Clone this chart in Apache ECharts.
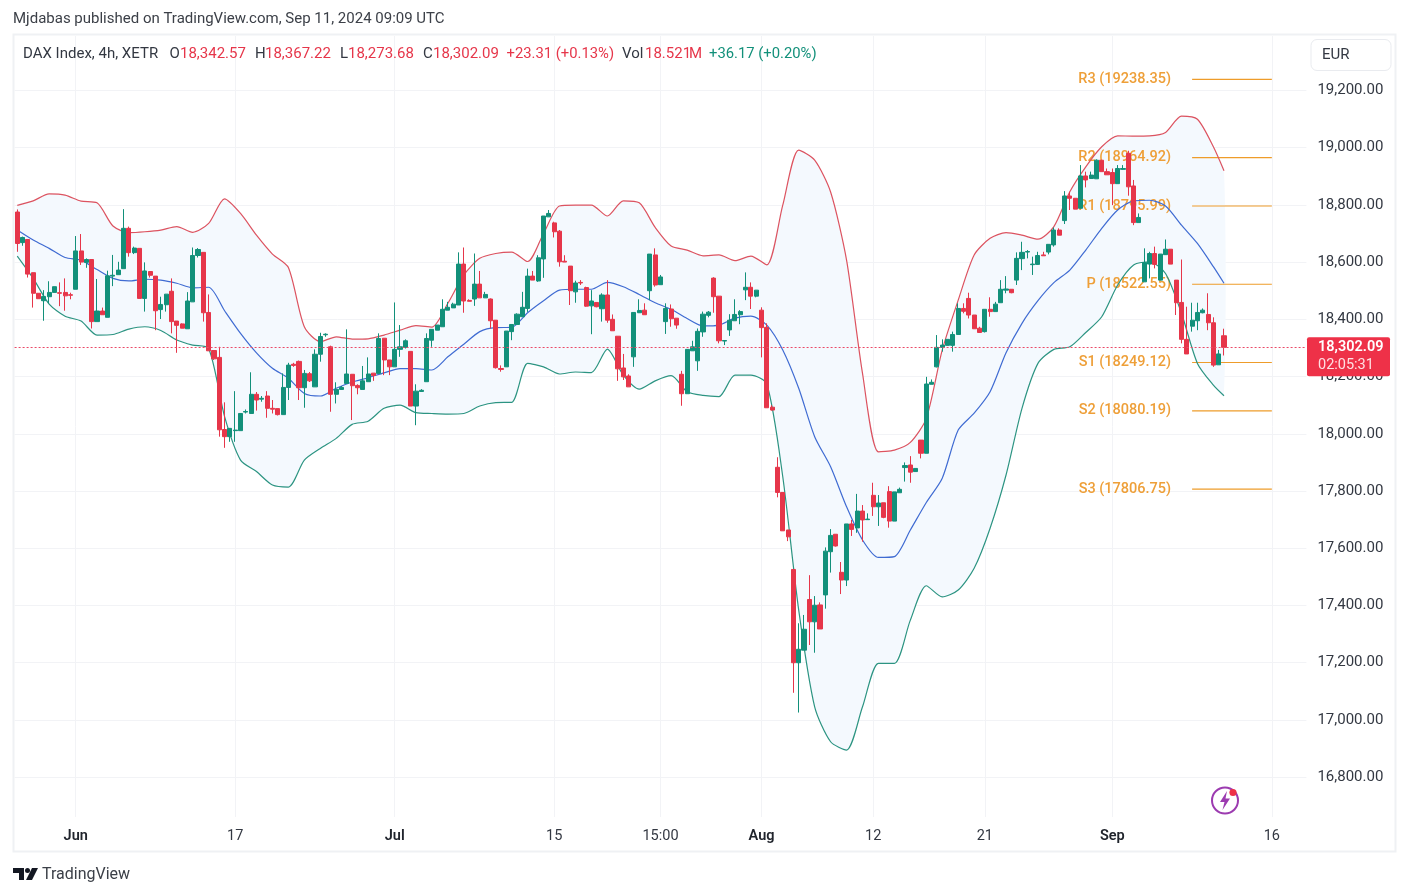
<!DOCTYPE html>
<html>
<head>
<meta charset="utf-8">
<title>DAX Index 4h</title>
<style>
html, body { margin: 0; padding: 0; background: #fff; }
#chart { width: 1409px; height: 896px; }
</style>
<script src="https://cdn.jsdelivr.net/npm/echarts@6/dist/echarts.min.js"></script>
</head>
<body>
<div id="chart"></div>
<script>
// open, close, low, high of every 4h bar
var candles = [
[18775,18665,18636,18784],[18668,18686,18657,18689],[18679,18558,18546,18679],[18563,18491,18441,18563],
[18491,18472,18472,18491],[18465,18480,18395,18502],[18479,18494,18456,18533],[18494,18514,18494,18514],
[18493,18491,18446,18529],[18494,18482,18430,18543],[18486,18484,18470,18493],[18505,18639,18505,18691],
[18639,18600,18590,18698],[18599,18609,18580,18613],[18609,18392,18368,18609],[18392,18429,18392,18541],
[18429,18416,18416,18441],[18407,18552,18407,18570],[18551,18554,18516,18625],[18556,18572,18556,18601],
[18577,18718,18577,18785],[18718,18633,18619,18724],[18633,18649,18628,18654],[18648,18473,18473,18648],
[18473,18569,18427,18599],[18567,18554,18546,18567],[18551,18430,18362,18551],[18434,18452,18401,18479],
[18451,18488,18427,18488],[18498,18392,18351,18543],[18394,18379,18283,18394],[18384,18369,18369,18386],
[18367,18464,18367,18495],[18461,18623,18461,18651],[18623,18644,18616,18649],[18634,18423,18392,18634],
[18424,18290,18290,18487],[18291,18262,18258,18291],[18267,18014,17990,18304],[18015,17990,17951,18110],
[17990,18019,17972,18019],[18011,18013,17972,18149],[18011,18071,18011,18071],[18076,18078,18071,18085],
[18071,18138,18071,18215],[18138,18118,18081,18146],[18121,18124,18112,18132],[18132,18089,18056,18149],
[18089,18086,18071,18118],[18088,18067,18064,18088],[18067,18162,18067,18211],[18162,18240,18118,18248],
[18243,18239,18234,18248],[18253,18161,18118,18256],[18161,18211,18091,18223],[18210,18185,18181,18216],
[18164,18278,18164,18295],[18278,18340,18252,18353],[18346,18348,18339,18351],[18304,18138,18077,18308],
[18138,18155,18106,18180],[18155,18162,18153,18167],[18176,18209,18176,18365],[18208,18168,18048,18208],
[18169,18161,18138,18173],[18155,18185,18155,18237],[18182,18209,18182,18267],[18212,18204,18185,18212],
[18211,18333,18211,18351],[18334,18258,18205,18334],[18258,18234,18205,18258],[18234,18295,18234,18459],
[18295,18304,18269,18380],[18302,18325,18298,18330],[18288,18097,18097,18288],[18097,18149,18030,18173],
[18148,18152,18147,18156],[18182,18333,18182,18351],[18327,18365,18304,18365],[18362,18380,18362,18380],
[18374,18435,18374,18470],[18432,18442,18432,18461],[18440,18453,18440,18458],[18450,18593,18450,18634],
[18593,18464,18423,18651],[18466,18463,18463,18470],[18471,18523,18447,18630],[18523,18475,18475,18569],
[18475,18487,18475,18496],[18471,18395,18368,18473],[18397,18231,18228,18397],[18228,18225,18217,18239],
[18234,18359,18234,18359],[18357,18382,18327,18382],[18382,18418,18382,18421],[18409,18442,18409,18496],
[18438,18551,18426,18577],[18551,18537,18537,18569],[18534,18615,18531,18624],[18611,18761,18545,18761],
[18758,18770,18758,18782],[18737,18706,18686,18741],[18708,18601,18584,18712],[18603,18600,18600,18624],
[18586,18500,18450,18586],[18496,18527,18458,18535],[18529,18527,18520,18537],[18511,18446,18444,18514],
[18447,18464,18348,18502],[18459,18444,18442,18459],[18437,18485,18392,18491],[18485,18397,18388,18537],
[18400,18360,18360,18417],[18341,18227,18185,18341],[18230,18199,18188,18279],[18202,18164,18164,18208],
[18269,18424,18234,18424],[18423,18431,18423,18470],[18432,18416,18416,18456],[18500,18628,18467,18628],
[18625,18520,18514,18648],[18521,18548,18521,18555],[18392,18438,18349,18456],[18436,18402,18374,18452],
[18404,18380,18367,18404],[18208,18140,18098,18220],[18140,18295,18140,18295],[18290,18304,18290,18325],
[18255,18358,18220,18368],[18356,18418,18339,18427],[18414,18425,18407,18429],[18544,18479,18423,18547],
[18481,18325,18316,18481],[18324,18326,18310,18326],[18363,18397,18342,18418],[18395,18417,18395,18470],
[18416,18427,18383,18432],[18503,18512,18467,18564],[18512,18481,18436,18529],[18481,18502,18477,18502],
[18432,18371,18267,18442],[18372,18091,18091,18386],[18093,18083,18081,18100],[17883,17795,17778,17918],
[17795,17661,17661,17795],[17664,17640,17625,17664],[17526,17200,17095,17526],[17200,17247,17026,17338],
[17244,17317,17244,17367],[17421,17343,17262,17506],[17343,17401,17235,17433],[17402,17318,17318,17411],
[17437,17590,17389,17603],[17588,17645,17515,17667],[17649,17608,17606,17649],[17516,17489,17440,17552],
[17489,17685,17468,17685],[17685,17666,17643,17699],[17671,17730,17654,17790],[17730,17699,17623,17751],
[17700,17702,17700,17722],[17785,17745,17713,17829],[17745,17758,17678,17786],[17759,17708,17705,17759],
[17798,17695,17672,17817],[17695,17797,17695,17797],[17794,17806,17794,17812],[17882,17889,17833,17900],
[17891,17866,17829,17922],[17868,17879,17868,17879],[17978,17932,17914,17978],[17932,18174,17932,18199],
[18173,18180,18173,18190],[18234,18302,18232,18345],[18302,18310,18287,18330],[18309,18330,18309,18330],
[18309,18347,18287,18357],[18347,18438,18347,18456],[18438,18428,18421,18456],[18473,18415,18403,18493],
[18415,18367,18367,18415],[18369,18354,18354,18374],[18357,18435,18354,18435],[18435,18427,18409,18477],
[18427,18453,18427,18461],[18458,18505,18458,18537],[18502,18506,18491,18551],[18505,18493,18491,18505],
[18537,18613,18520,18634],[18612,18634,18572,18671],[18635,18637,18613,18642],[18591,18593,18555,18619],
[18592,18623,18590,18636],[18625,18622,18622,18636],[18635,18662,18627,18662],[18660,18712,18654,18721],
[18712,18694,18694,18718],[18745,18831,18733,18848],[18831,18823,18782,18846],[18823,18785,18785,18823],
[18788,18901,18788,18939],[18901,18887,18861,18916],[18892,18904,18892,18916],[18891,18956,18891,18959],
[18956,18916,18916,18956],[18916,18905,18905,18927],[18913,18874,18799,18927],[18874,18927,18874,18939],
[18924,18927,18922,18939],[18980,18863,18832,18989],[18866,18738,18729,18887],[18738,18756,18738,18770],
[18531,18598,18531,18648],[18593,18630,18543,18636],[18630,18592,18578,18654],[18537,18628,18537,18628],
[18626,18645,18625,18679],[18645,18593,18593,18645],[18537,18458,18415,18537],[18459,18330,18316,18609],
[18330,18279,18279,18444],[18376,18397,18357,18458],[18395,18424,18362,18458],[18423,18432,18421,18438],
[18417,18388,18362,18491],[18388,18240,18234,18407],[18241,18279,18241,18293],[18342.57,18302.09,18273.68,18367.22]
];

// Bollinger bands, read every third bar (plus the last one)
var bandUpper = [18798,18814,18838,18834,18813,18807,18726,18703,18706,18712,18724,18704,18735,18821,18770,18694,18628,18581,18374,18322,18339,
	18331,18332,18345,18362,18378,18373,18456,18555,18613,18630,18635,18602,18700,18796,18799,18799,18761,18814,18807,18721,
	18656,18642,18622,18625,18605,18621,18590,18799,18991,18956,18845,18607,18211,17937,17943,17970,18054,
	18293,18467,18625,18683,18703,18694,18680,18724,18846,18933,19003,19041,19040,19041,19053,19110,19099,19003,18919];
var bandMiddle = [18712,18677,18648,18616,18607,18574,18543,18534,18540,18537,18526,18510,18512,18430,18351,18283,18229,18194,18141,18132,18159,
	18181,18196,18213,18228,18228,18223,18269,18313,18357,18371,18372,18423,18465,18502,18505,18505,18529,18514,18487,18458,
	18435,18403,18377,18380,18404,18411,18380,18293,18159,17990,17885,17745,17629,17568,17571,17664,17760,
	17845,18013,18072,18147,18283,18386,18465,18528,18572,18642,18718,18782,18814,18816,18796,18729,18665,18584,18526];
var bandLower = [18621,18543,18453,18411,18394,18345,18347,18366,18374,18361,18328,18310,18298,18060,17908,17868,17821,17814,17908,17949,17984,
	18033,18044,18089,18100,18074,18071,18069,18071,18097,18109,18110,18246,18234,18209,18216,18214,18296,18205,18156,18185,
	18203,18147,18134,18130,18205,18205,18174,17850,17384,17046,16924,16895,17046,17198,17198,17349,17469,
	17430,17454,17530,17670,17856,18089,18246,18295,18304,18354,18409,18520,18590,18601,18560,18421,18246,18170,18133];

var pivotNames = ['R3', 'R2', 'R1', 'P', 'S1', 'S2', 'S3'];
var pivotValues = [19238.35, 18964.92, 18795.99, 18522.55, 18249.12, 18080.19, 17806.75];

var priceTicks = [16800, 17000, 17200, 17400, 17600, 17800, 18000, 18200, 18400, 18600, 18800, 19000, 19200];
var dateBars = [11, 41, 71, 101, 121, 140, 161, 182, 206, 236];
var dateLabels = ['Jun', '17', 'Jul', '15', '15:00', 'Aug', '12', '21', 'Sep', '16'];
var monthLabels = ['Jun', 'Jul', 'Aug', 'Sep'];
var barSlots = 243; // room to the right of the last bar

var lastPrice = 18302.09;
var countdown = '02:05:31';

var green = '#12907a';
var red = '#e6364a';
var textColor = '#333842';
var fontName = 'Roboto';

var categories = [];
for (var i = 0; i < barSlots; i++) {
	var pos = dateBars.indexOf(i);
	categories.push(pos >= 0 ? dateLabels[pos] : '');
}

function isDateBar(index) {
	return dateBars.indexOf(index) >= 0;
}

// x position of the nth band reading
function bandBar(n) {
	return Math.min(n * 3, candles.length - 1);
}

function bandLine(values) {
	return values.map(function(v, n) {
		return [bandBar(n), v];
	});
}

var chart = echarts.init(document.getElementById('chart'));

function txt(x, y, text, fill, extra) {
	var style = { x: x, y: y, text: text, fill: fill, font: '15px ' + fontName, textVerticalAlign: 'middle' };
	for (var k in extra) style[k] = extra[k];
	return { type: 'text', z: 20, silent: true, style: style };
}

var graphics = [
	// frame round the chart
	{ type: 'rect', z: -1, silent: true, shape: { x: 13.5, y: 34.5, width: 1382, height: 817 }, style: { fill: 'none', stroke: '#eff1f4', lineWidth: 2 } },
	txt(13, 19.5, 'Mjdabas published on TradingView.com, Sep 11, 2024 09:09 UTC', '#3c4048'),
	// legend line
	txt(23, 54.5, 'DAX Index, 4h, XETR', textColor),
	txt(169.5, 54.5, 'O', textColor), txt(180, 54.5, '18,342.57', red),
	txt(255, 54.5, 'H', textColor), txt(265, 54.5, '18,367.22', red),
	txt(340, 54.5, 'L', textColor), txt(348, 54.5, '18,273.68', red),
	txt(423, 54.5, 'C', textColor), txt(433, 54.5, '18,302.09', red),
	txt(506.5, 54.5, '+23.31 (+0.13%)', red, { font: '14.8px ' + fontName }),
	txt(622, 54.5, 'Vol', textColor), txt(645, 54.5, '18.521', red), txt(689, 54.5, 'M', red),
	txt(709, 54.5, '+36.17 (+0.20%)', green, { font: '14.8px ' + fontName }),
	// currency button
	{ type: 'rect', z: 20, silent: true, shape: { x: 1311, y: 39.5, width: 80, height: 31, r: 6 }, style: { fill: '#fff', stroke: '#e9ebef', lineWidth: 1 } },
	txt(1322, 55, 'EUR', textColor),
	// lightning badge
	{ type: 'circle', z: 20, silent: true, shape: { cx: 1225, cy: 800.5, r: 13 }, style: { fill: 'none', stroke: '#9c3bb0', lineWidth: 2 } },
	{ type: 'polygon', z: 20, silent: true, shape: { points: [[1227, 791], [1220, 802], [1224.5, 802], [1222.5, 810], [1230, 798.5], [1225.5, 798.5]] }, style: { fill: '#9c3bb0' } },
	{ type: 'circle', z: 21, silent: true, shape: { cx: 1233, cy: 792.5, r: 3.6 }, style: { fill: '#ee3148' } },
	// footer logo
	{ type: 'polygon', z: 20, silent: true, shape: { points: [[13, 868], [24, 868], [24, 880], [19, 880], [19, 873], [13, 873]] }, style: { fill: '#131722' } },
	{ type: 'circle', z: 20, silent: true, shape: { cx: 27.5, cy: 870.5, r: 2.5 }, style: { fill: '#131722' } },
	{ type: 'polygon', z: 20, silent: true, shape: { points: [[32, 868], [38, 868], [32, 880], [26, 880]] }, style: { fill: '#131722' } },
	txt(42, 874.5, 'TradingView', '#3c4048', { font: '16px ' + fontName })
];

var option = {
	animation: false,
	backgroundColor: '#fff',
	textStyle: { fontFamily: fontName },
	grid: { left: 14.6, top: 36, width: 1291.8, height: 781 },
	xAxis: {
		type: 'category',
		data: categories,
		boundaryGap: true,
		axisLine: { show: false },
		axisTick: { show: false, interval: function(index) { return isDateBar(index); }, alignWithLabel: true },
		splitLine: { show: true, alignWithLabel: true, interval: function(index) { return isDateBar(index); }, lineStyle: { color: '#f2f3f6', width: 1 } },
		axisLabel: {
			interval: function(index) { return isDateBar(index); },
			margin: 12,
			hideOverlap: false,
			fontSize: 14.5,
			fontFamily: fontName,
			color: textColor,
			formatter: function(value) {
				return monthLabels.indexOf(value) >= 0 ? '{month|' + value + '}' : value;
			},
			rich: { month: { fontWeight: 600, fontSize: 14.5, fontFamily: fontName, color: '#20242c' } }
		}
	},
	yAxis: {
		type: 'value',
		position: 'right',
		min: 16661,
		max: 19390,
		axisLine: { show: false },
		axisTick: { show: false, customValues: priceTicks },
		splitLine: { show: true, lineStyle: { color: '#f2f3f6', width: 1 } },
		axisLabel: {
			customValues: priceTicks,
			margin: 11,
			fontSize: 15,
			fontFamily: fontName,
			color: textColor,
			padding: [0, 0, 4, 0],
			formatter: function(value) {
				return value.toLocaleString('en-US', { minimumFractionDigits: 2 });
			}
		}
	},
	series: [{
		// band fill between the outer lines
		type: 'custom',
		name: 'band',
		z: 1,
		silent: true,
		data: [[0, bandUpper[0]]],
		renderItem: function(params, api) {
			var top = [], bottom = [];
			bandUpper.forEach(function(v, n) {
				top.push(api.coord([bandBar(n), v]));
			});
			bandLower.forEach(function(v, n) {
				bottom.unshift(api.coord([bandBar(n), v]));
			});
			return { type: 'polygon', shape: { points: top.concat(bottom), smooth: 0.25 }, style: { fill: '#f4f9fe' } };
		}
	}, {
		// pivot levels
		type: 'custom',
		name: 'pivots',
		z: 2,
		silent: true,
		clip: false,
		data: pivotValues.map(function(v, n) { return [221, v, n]; }),
		renderItem: function(params, api) {
			var value = api.value(1);
			var name = pivotNames[api.value(2)];
			var start = api.coord([221, value]);
			var end = api.coord([236, value]);
			return {
				type: 'group',
				children: [{
					type: 'line',
					shape: { x1: start[0], y1: start[1], x2: end[0], y2: end[1] },
					style: { stroke: '#ee9c2a', lineWidth: 1.2 }
				}, {
					type: 'text',
					style: {
						x: start[0] - 21,
						y: start[1],
						text: name + ' (' + value.toFixed(2) + ')',
						fill: '#ee9f38',
						font: '500 14.5px ' + fontName,
						textAlign: 'right',
						textVerticalAlign: 'middle'
					}
				}]
			};
		}
	}, {
		type: 'line', name: 'upper', z: 3, silent: true, showSymbol: false, smooth: 0.25, data: bandLine(bandUpper),
		lineStyle: { color: '#dc5360', width: 1.2 }
	}, {
		type: 'line', name: 'basis', z: 3, silent: true, showSymbol: false, smooth: 0.25, data: bandLine(bandMiddle),
		lineStyle: { color: '#3f6bd2', width: 1.2 }
	}, {
		type: 'line', name: 'lower', z: 3, silent: true, showSymbol: false, smooth: 0.25, data: bandLine(bandLower),
		lineStyle: { color: '#2c9482', width: 1.2 }
	}, {
		type: 'candlestick',
		name: 'DAX',
		z: 4,
		silent: true,
		barWidth: 4.6,
		data: candles,
		itemStyle: { color: green, color0: red, borderColor: green, borderColor0: red, borderWidth: 1 },
		markLine: {
			silent: true,
			symbol: 'none',
			label: { show: false },
			lineStyle: { color: '#ea4a68', type: [2, 2], width: 1 },
			data: [{ yAxis: lastPrice }]
		}
	}],
	graphic: graphics
};

chart.setOption(option);

// price tag sits on the last price
var tagY = chart.convertToPixel({ yAxisIndex: 0 }, lastPrice);
chart.setOption({
	graphic: graphics.concat([
		{ type: 'rect', z: 22, silent: true, shape: { x: 1307, y: tagY - 10, width: 83, height: 39, r: 2 }, style: { fill: '#ee3148' } },
		txt(1318, tagY, lastPrice.toLocaleString('en-US'), '#fff', { font: '600 14.5px ' + fontName }),
		txt(1318, tagY + 18, countdown, '#ffdfe2', { font: '14.5px ' + fontName })
	].map(function(g) { g.z = 23; return g; }))
});
</script>
</body>
</html>
